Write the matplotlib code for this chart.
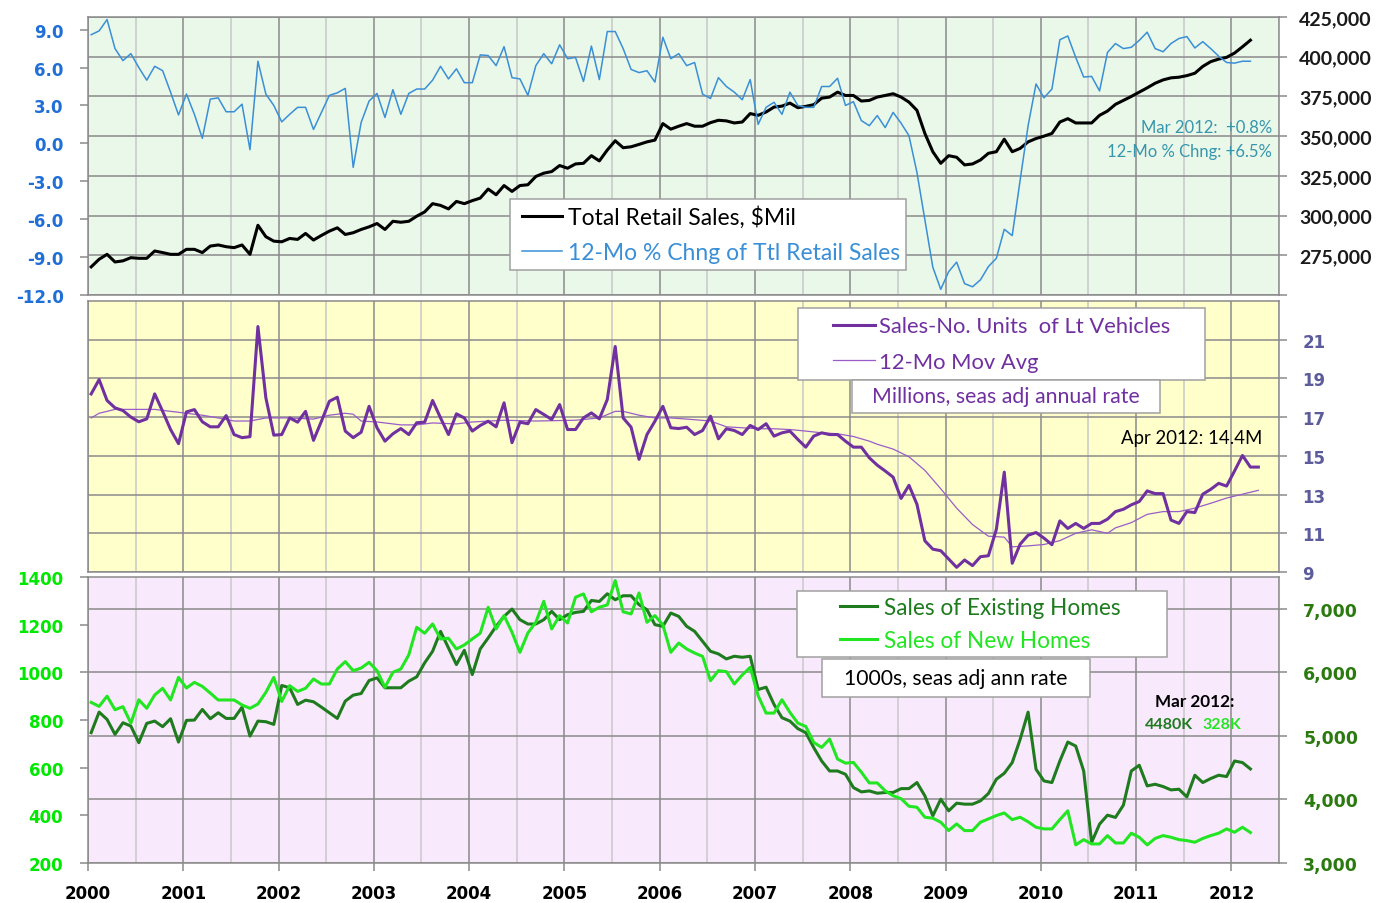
import numpy as np
import matplotlib.pyplot as plt
from matplotlib.lines import Line2D
from matplotlib.patches import Rectangle
from matplotlib.ticker import MultipleLocator

plt.rcParams['font.family'] = 'DejaVu Sans'

# monthly values, Jan 2000 onward
retail_pct = [8.6, 8.9, 9.8, 7.5, 6.55, 7.1, 6.0, 5.0, 6.1, 5.75,
              4.05, 2.25, 3.9, 2.3, 0.4, 3.5, 3.6, 2.5, 2.5, 3.1,
              -0.5, 6.5, 3.9, 3.0, 1.7, 2.3, 2.85, 2.85, 1.1, 2.45,
              3.8, 4.0, 4.35, -1.9, 1.65, 3.35, 3.95, 2.05, 4.25, 2.3,
              3.95, 4.3, 4.3, 5.0, 6.1, 5.1, 5.9, 4.8, 4.8, 7.0,
              6.95, 6.15, 7.65, 5.2, 5.1, 3.8, 6.15, 7.1, 6.3, 7.8,
              6.7, 6.8, 4.9, 7.7, 5.05, 8.85, 8.85, 7.5, 5.85, 5.6,
              5.75, 4.85, 8.4, 6.7, 7.1, 6.15, 6.4, 3.9, 3.55, 5.2,
              4.5, 4.05, 3.45, 5.05, 1.5, 2.85, 3.25, 2.3, 4.05, 3.0,
              2.85, 2.85, 4.5, 4.5, 5.15, 3.0, 3.3, 1.8, 1.4, 2.2,
              1.25, 2.45, 1.6, 0.6, -2.3, -6.05, -9.8, -11.55, -10.15, -9.4,
              -11.1, -11.35, -10.8, -9.75, -9.1, -6.8, -7.3, -2.9, 1.4, 4.7,
              3.6, 4.3, 8.2, 8.5, 6.8, 5.25, 5.3, 4.15, 7.2, 7.9,
              7.5, 7.6, 8.15, 8.8, 7.5, 7.25, 7.9, 8.3, 8.45, 7.55,
              8.05, 7.5, 6.9, 6.4, 6.35, 6.5, 6.5]

retail_sales = [267700, 272500, 275600, 270800, 271500, 273500, 273100, 273100, 277700, 276700,
                275600, 275600, 278750, 278750, 276700, 280800, 281500, 280400, 279800, 281500,
                275600, 293900, 286700, 283900, 283500, 285600, 285000, 288750, 284600, 287500,
                290200, 292300, 288100, 289200, 291250, 292900, 295000, 291250, 296400, 295800,
                296400, 299600, 302300, 307500, 306400, 304200, 308900, 307500, 309400, 311000,
                316700, 313100, 318900, 315200, 318900, 319400, 324600, 326700, 327700, 331500,
                329800, 332500, 332900, 337700, 334400, 341250, 347100, 342700, 343300, 344800,
                346400, 347500, 357900, 354400, 356250, 357900, 356250, 356250, 358500, 360000,
                359600, 358300, 358900, 364200, 363100, 365200, 368300, 368900, 370800, 367900,
                368750, 369800, 373900, 374600, 377700, 375600, 375600, 372100, 372500, 374600,
                375600, 376700, 374600, 371400, 366250, 351700, 340200, 332900, 337700, 336700,
                331900, 332500, 335000, 339200, 340200, 348100, 340200, 342300, 346400, 348500,
                350000, 351700, 358900, 361000, 358300, 358300, 358300, 363100, 365800, 370000,
                372500, 375000, 377700, 380400, 383300, 385400, 386700, 387100, 388100, 389600,
                393900, 396900, 398500, 399600, 402300, 406250, 410400]

vehicles = [18.2, 18.94, 17.86, 17.48, 17.34, 17.0, 16.76, 16.91, 18.2, 17.3,
            16.36, 15.63, 17.27, 17.39, 16.76, 16.5, 16.5, 17.08, 16.1, 15.94,
            15.99, 21.68, 18.0, 16.07, 16.1, 16.96, 16.74, 17.3, 15.8, 16.79,
            17.82, 18.03, 16.28, 15.94, 16.22, 17.56, 16.45, 15.76, 16.14, 16.41,
            16.1, 16.71, 16.74, 17.86, 16.96, 16.1, 17.17, 16.96, 16.28, 16.57,
            16.79, 16.5, 17.74, 15.68, 16.74, 16.66, 17.39, 17.14, 16.88, 17.65,
            16.36, 16.36, 16.96, 17.22, 16.91, 17.91, 20.65, 16.96, 16.48, 14.82,
            16.1, 16.79, 17.56, 16.45, 16.41, 16.48, 16.1, 16.31, 17.05, 15.88,
            16.4, 16.31, 16.1, 16.57, 16.36, 16.66, 16.02, 16.19, 16.28, 15.85,
            15.45, 16.02, 16.19, 16.1, 16.1, 15.76, 15.45, 15.45, 14.9, 14.52,
            14.22, 13.9, 12.8, 13.48, 12.5, 10.61, 10.18, 10.1, 9.67, 9.24,
            9.62, 9.33, 9.79, 9.84, 11.2, 14.16, 9.45, 10.44, 10.9, 11.04,
            10.75, 10.41, 11.64, 11.25, 11.51, 11.25, 11.51, 11.51, 11.73, 12.12,
            12.24, 12.47, 12.64, 13.19, 13.05, 13.05, 11.68, 11.51, 12.12, 12.07,
            13.02, 13.27, 13.58, 13.44, 14.22, 15.02, 14.42, 14.42]

# 12-mo moving average, read at selected months
ma_months = [0, 1, 3, 8, 10, 12, 14, 16, 18, 20, 22, 25, 28, 30, 32, 33, 34, 36, 39, 41,
             43, 46, 48, 52, 56, 61, 64, 66, 67, 69, 71, 73, 75, 78, 80, 82, 84, 86, 88, 90,
             92, 94, 96, 98, 99, 101, 103, 105, 107, 109, 111, 113, 115, 116, 118, 120, 122, 124, 126, 128,
             129, 131, 133, 135, 137, 139, 141, 143, 145, 147]
ma_values = [16.96, 17.2, 17.4, 17.4, 17.3, 17.2, 17.1, 16.96, 16.8, 16.8,
             16.96, 16.96, 16.9, 17.1, 17.2, 17.15, 16.8, 16.75, 16.6, 16.6,
             16.7, 16.65, 16.75, 16.84, 16.8, 16.84, 16.96, 17.3, 17.3, 17.1,
             16.96, 16.96, 16.9, 16.8, 16.5, 16.45, 16.4, 16.4, 16.36, 16.28,
             16.19, 16.14, 16.0, 15.76, 15.6, 15.35, 14.95, 14.25, 13.3, 12.3,
             11.45, 10.85, 10.8, 10.3, 10.35, 10.42, 10.62, 11.0, 11.18, 11.0,
             11.28, 11.55, 11.98, 12.12, 12.12, 12.3, 12.55, 12.82, 13.02, 13.22]

existing_homes = [5051, 5374, 5259, 5024, 5207, 5154, 4893, 5197, 5233, 5145,
                  5270, 4903, 5244, 5249, 5416, 5270, 5364, 5275, 5275, 5452,
                  4997, 5233, 5223, 5181, 5793, 5757, 5495, 5562, 5537, 5452,
                  5364, 5275, 5547, 5641, 5667, 5871, 5913, 5757, 5757, 5757,
                  5861, 5929, 6149, 6331, 6645, 6384, 6122, 6347, 5965, 6368,
                  6541, 6724, 6880, 6996, 6828, 6760, 6760, 6828, 6959, 6828,
                  6907, 6943, 6959, 7131, 7115, 7236, 7142, 7205, 7205, 7064,
                  6985, 6750, 6724, 6933, 6880, 6724, 6645, 6488, 6331, 6290,
                  6211, 6253, 6237, 6253, 5730, 5766, 5495, 5286, 5233, 5114,
                  5051, 4816, 4605, 4448, 4448, 4396, 4187, 4119, 4134, 4098,
                  4109, 4110, 4170, 4171, 4266, 4056, 3742, 4004, 3821, 3941,
                  3926, 3926, 3978, 4093, 4318, 4412, 4580, 4946, 5374, 4475,
                  4291, 4266, 4605, 4903, 4840, 4448, 3325, 3612, 3753, 3717,
                  3910, 4448, 4538, 4213, 4239, 4203, 4150, 4161, 4040, 4381,
                  4266, 4329, 4381, 4360, 4605, 4580, 4480]

new_homes = [874, 857, 900, 843, 856, 787, 885, 849, 905, 933,
             884, 979, 934, 958, 941, 913, 884, 884, 884, 863,
             849, 867, 916, 979, 878, 944, 920, 933, 972, 951,
             951, 1014, 1045, 1007, 1018, 1042, 1007, 937, 1000, 1014,
             1073, 1189, 1164, 1203, 1140, 1143, 1098, 1115, 1140, 1164,
             1273, 1182, 1238, 1168, 1084, 1165, 1210, 1298, 1182, 1238,
             1207, 1315, 1329, 1254, 1273, 1283, 1385, 1254, 1245, 1333,
             1210, 1238, 1199, 1084, 1123, 1098, 1081, 1067, 965, 1007,
             1003, 951, 989, 1021, 902, 829, 829, 885, 832, 787,
             773, 706, 685, 720, 636, 619, 622, 581, 536, 536,
             503, 482, 470, 438, 434, 392, 388, 371, 336, 364,
             336, 336, 371, 385, 399, 410, 382, 392, 373, 350,
             343, 343, 382, 419, 276, 298, 280, 280, 315, 284,
             284, 325, 308, 276, 303, 315, 308, 298, 294, 287,
             303, 315, 325, 343, 329, 350, 328]

years = list(range(2000, 2013))

GRID_DARK = '#8a8a8a'
GRID_LIGHT = '#c8c8c8'
BOX_EDGE = '#a0a0a0'
BLUE = '#3a8fd6'
PURPLE = '#7030a0'
DKGREEN = '#1e7b1e'
LTGREEN = '#22e622'
TEXT_FONT = 'Lato'
W, H = 1381, 904


def month_pos(n):
    return 2000 + (np.arange(n) + 0.4) / 12


def rect(top, bottom):
    return [88 / W, 1 - bottom / H, 1191 / W, (bottom - top) / H]


def panel(fig, top, bottom, bg):
    ax = fig.add_axes(rect(top, bottom))
    ax.set_facecolor(bg)
    ax.set_xlim(2000, 2012.5)
    ax.set_xticks(years)
    ax.xaxis.set_minor_locator(MultipleLocator(0.5))
    ax.grid(which='major', color=GRID_DARK, lw=1.1)
    ax.grid(which='minor', axis='x', color=GRID_LIGHT, lw=1.1)
    ax.set_axisbelow(True)
    for sp in ax.spines.values():
        sp.set_color(GRID_DARK)
        sp.set_linewidth(1.1)
    ax.tick_params(axis='x', which='both', length=0, labelbottom=False)
    return ax


def right_axis(ax, pad=8.5):
    ax.yaxis.tick_right()
    ax.tick_params(axis='y', which='both', left=False, right=True, length=6,
                   width=1.1, color=GRID_DARK, pad=pad)


def left_twin(ax, pad=11.5):
    tw = ax.twinx()
    tw.yaxis.tick_left()
    tw.set_xlim(ax.get_xlim())
    tw.tick_params(axis='y', left=True, right=False, length=6, width=1.1,
                   color=GRID_DARK, pad=pad)
    return tw


def frame(ax, x0, y0, w, h):
    ax.add_patch(Rectangle((x0, y0), w, h, transform=ax.transAxes, fc='white',
                           ec=BOX_EDGE, lw=1.1, zorder=4))


def legend(ax, handles, labels, anchor, colors, size, spacing, hlen, hpad):
    ax.legend(handles, labels, loc='center left', bbox_to_anchor=anchor, frameon=False,
              labelcolor=colors, prop={'family': TEXT_FONT, 'size': size},
              handlelength=hlen, handletextpad=hpad, borderpad=0,
              labelspacing=spacing, borderaxespad=0)


fig = plt.figure(figsize=(W / 100, H / 100), dpi=100)

# ---- top: retail sales ----
ax1 = panel(fig, 18, 296, '#e9f8e9')
ax1l = left_twin(ax1)
right_axis(ax1)
ax1.plot(month_pos(len(retail_sales)), retail_sales, color='black', lw=2.2)
ax1.set_ylim(250000, 425000)
ticks = list(range(250000, 425001, 25000))
ax1.set_yticks(ticks, labels=[''] + [f'{v:,}' for v in ticks[1:]],
               color='#1a1a1a', fontweight='bold', fontsize=14, family=TEXT_FONT)
ax1l.plot(month_pos(len(retail_pct)), retail_pct, color=BLUE, lw=1.1)
ax1l.set_ylim(-12, 10)
lt = list(range(-12, 10, 3))
ax1l.set_yticks(lt, labels=[f'{v:.1f}' for v in lt], color='#1f6fd6',
                fontweight='bold', fontsize=12)
for sp in ax1l.spines.values():
    sp.set_visible(False)
frame(ax1l, 0.3543, 0.090, 0.3325, 0.2554)
legend(ax1l, [Line2D([], [], color='black', lw=2.2), Line2D([], [], color=BLUE, lw=1.1)],
       ['Total Retail Sales, $Mil', '12-Mo % Chng of Ttl Retail Sales'],
       (0.3644, 0.219), 'linecolor', 16.5, 0.64, 1.75, 0.26)
ax1l.text(0.994, 0.604, 'Mar 2012:  +0.8%', transform=ax1l.transAxes, ha='right',
          va='center', color='#3796ad', fontsize=12, family=TEXT_FONT)
ax1l.text(0.994, 0.518, '12-Mo % Chng: +6.5%', transform=ax1l.transAxes, ha='right',
          va='center', color='#3796ad', fontsize=12, family=TEXT_FONT)

# ---- middle: light vehicle sales ----
ax2 = panel(fig, 302, 573, '#ffffcc')
right_axis(ax2, pad=11)
ax2.plot(2000 + (np.array(ma_months) + 0.4) / 12, ma_values, color='#9a5cc8', lw=0.9)
ax2.plot(month_pos(len(vehicles)), vehicles, color=PURPLE, lw=2.2)
ax2.set_ylim(9, 23)
vt = list(range(9, 22, 2))
ax2.set_yticks(vt, labels=[str(v) for v in vt], color='#5c5c9c',
               fontweight='bold', fontsize=12)
frame(ax2, 0.5961, 0.7085, 0.3417, 0.2657)
legend(ax2, [Line2D([], [], color=PURPLE, lw=2.2), Line2D([], [], color='#9a5cc8', lw=0.9)],
       ['Sales-No. Units  of Lt Vehicles', '12-Mo Mov Avg'],
       (0.6255, 0.841), PURPLE, 15.8, 0.71, 1.9, 0.2)
frame(ax2, 0.6415, 0.5867, 0.2586, 0.1218)
ax2.text(0.771, 0.648, 'Millions, seas adj annual rate', transform=ax2.transAxes,
         ha='center', va='center', color=PURPLE, fontsize=15.3, family=TEXT_FONT, zorder=6)
ax2.text(0.986, 0.498, 'Apr 2012: 14.4M', transform=ax2.transAxes, ha='right',
         va='center', color='black', fontsize=13.4, family=TEXT_FONT)

# ---- bottom: home sales ----
ax3 = panel(fig, 578, 864, '#f9e9fc')
ax3l = left_twin(ax3, pad=12)
right_axis(ax3, pad=11.5)
ax3.plot(month_pos(len(existing_homes)), existing_homes, color=DKGREEN, lw=2.2)
ax3.set_ylim(3000, 7500)
rt = list(range(3000, 7001, 1000))
ax3.set_yticks(rt, labels=[f'{v:,}' for v in rt], color='#2b7a10',
               fontweight='bold', fontsize=12.5)
ax3l.plot(month_pos(len(new_homes)), new_homes, color=LTGREEN, lw=2.2)
ax3l.set_ylim(200, 1400)
nt = list(range(200, 1401, 200))
ax3l.set_yticks(nt, labels=[str(v) for v in nt], color='#00e800',
                fontweight='bold', fontsize=12)
for sp in ax3l.spines.values():
    sp.set_visible(False)
ax3.set_xticks(years, labels=[str(y) for y in years], fontweight='bold', fontsize=12)
ax3.tick_params(axis='x', which='major', length=6, width=1.1, color=GRID_DARK,
                labelbottom=True, pad=9)
frame(ax3l, 0.5953, 0.7203, 0.3107, 0.2308)
legend(ax3l, [Line2D([], [], color=DKGREEN, lw=2.2), Line2D([], [], color=LTGREEN, lw=2.2)],
       ['Sales of Existing Homes', 'Sales of New Homes'],
       (0.6314, 0.837), 'linecolor', 16.3, 0.53, 1.64, 0.3)
frame(ax3l, 0.6163, 0.5804, 0.225, 0.1329)
ax3l.text(0.7288, 0.6469, '1000s, seas adj ann rate', transform=ax3l.transAxes,
          ha='center', va='center', color='black', fontsize=15.2, family=TEXT_FONT, zorder=6)
ax3l.text(0.929, 0.566, 'Mar 2012:', transform=ax3l.transAxes, ha='center',
          va='center', color='black', fontsize=12.3, family=TEXT_FONT, fontweight='bold')
ax3l.text(0.928, 0.486, '4480K', transform=ax3l.transAxes, ha='right',
          va='center', color=DKGREEN, fontsize=11.5, family=TEXT_FONT, fontweight='bold')
ax3l.text(0.936, 0.486, '328K', transform=ax3l.transAxes, ha='left',
          va='center', color=LTGREEN, fontsize=11.5, family=TEXT_FONT, fontweight='bold')

fig.savefig('out.png', dpi=100)
